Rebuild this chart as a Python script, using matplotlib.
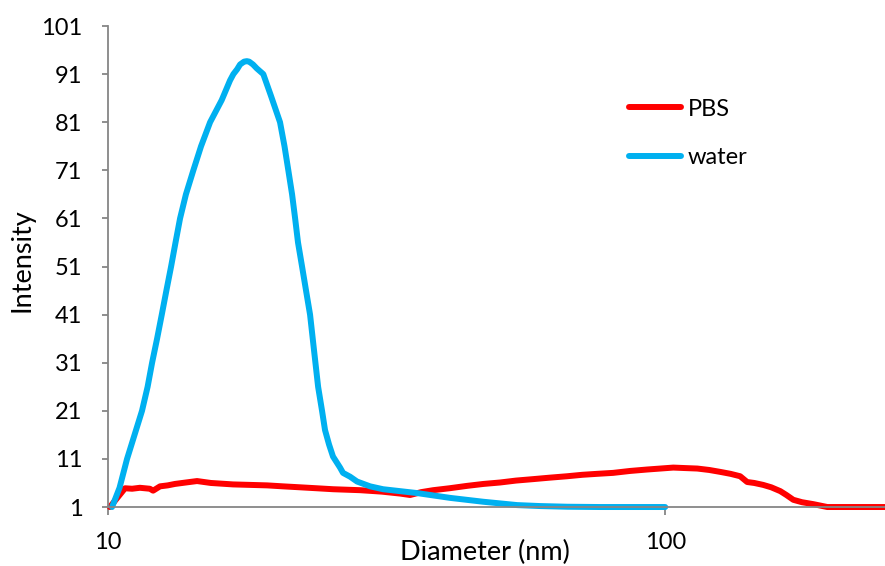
import numpy as np
import matplotlib.pyplot as plt
from matplotlib.ticker import FixedLocator, NullLocator, FixedFormatter

plt.rcParams['font.family'] = ['Lato', 'DejaVu Sans']

# DLS size distribution
pbs_d = [10.08, 10.73, 11.05, 11.41, 11.89, 12.05, 12.40, 12.80, 13.19, 13.80,
         14.45, 15.30, 16.77, 18.00, 19.30, 20.60, 22.11, 23.70, 25.35, 28.35,
         31.00, 33.43, 34.85, 36.50, 38.33, 41.00, 44.11, 47.20, 50.55, 54.00,
         57.94, 62.00, 66.71, 71.00, 75.47, 80.65, 86.50, 92.83, 98.00, 103.4,
         108.5, 114.2, 120.0, 125.6, 131.0, 136.3, 140.3, 144.5, 149.9, 155.0,
         160.9, 165.0, 169.8, 176.0, 184.4, 195.4, 210.0, 248.0]
pbs_i = [1.0, 4.9, 4.8, 5.0, 4.8, 4.4, 5.3, 5.5, 5.8, 6.1,
         6.4, 6.0, 5.7, 5.6, 5.5, 5.3, 5.1, 4.9, 4.7, 4.5,
         4.2, 3.8, 3.5, 4.1, 4.5, 4.9, 5.4, 5.8, 6.1, 6.5,
         6.8, 7.1, 7.4, 7.7, 7.9, 8.1, 8.5, 8.8, 9.0, 9.2,
         9.1, 9.0, 8.7, 8.3, 7.9, 7.4, 6.2, 6.0, 5.6, 5.1,
         4.3, 3.5, 2.5, 2.0, 1.6, 1.0, 1.0, 1.0]

water_d = [10.17, 10.49, 10.82, 11.16, 11.51, 11.78, 12.00, 12.25, 12.49, 12.73,
           12.98, 13.22, 13.47, 13.80, 14.23, 14.69, 15.25, 16.00, 16.56, 16.79,
           17.05, 17.26, 17.55, 17.75, 17.92, 18.21, 18.49, 19.00, 19.61, 20.36,
           20.74, 21.07, 21.40, 21.67, 21.93, 22.30, 22.67, 23.05, 23.43, 23.83,
           24.22, 24.52, 24.93, 25.34, 26.09, 26.41, 27.20, 27.99, 29.54, 31.17,
           33.44, 35.87, 41.11, 47.12, 54.24, 59.66, 66.71, 76.43, 100.0]
water_i = [1.0, 5.0, 11.0, 16.0, 21.0, 26.0, 31.0, 36.0, 41.0, 46.0,
           51.0, 56.0, 61.0, 66.0, 71.0, 76.0, 81.0, 85.6, 89.7, 91.0,
           92.0, 93.0, 93.6, 93.7, 93.6, 93.0, 92.2, 91.0, 86.5, 81.0,
           76.0, 71.0, 66.0, 61.0, 56.0, 51.0, 46.0, 41.0, 33.6, 26.0,
           21.0, 17.0, 14.0, 11.5, 9.2, 8.1, 7.3, 6.3, 5.3, 4.7,
           4.3, 3.9, 2.9, 2.1, 1.4, 1.2, 1.06, 1.0, 1.0]

y_ticks = list(range(1, 102, 10))
x_ticks = [10, 100]

fig = plt.figure(figsize=(8.85, 5.66), dpi=100)
ax = fig.add_axes([0.122, 0.1042, 0.878, 0.8498])

ax.plot(pbs_d, pbs_i, color='#FF0000', lw=4.3, label='PBS',
        solid_capstyle='round', solid_joinstyle='round', clip_on=False)
ax.plot(water_d, water_i, color='#00B0F0', lw=4.3, label='water',
        solid_capstyle='round', solid_joinstyle='round', clip_on=False)

ax.set_xscale('log')
ax.set_xlim(10, 248)
ax.set_ylim(1, 101)
ax.xaxis.set_major_locator(FixedLocator(x_ticks))
ax.xaxis.set_major_formatter(FixedFormatter([str(t) for t in x_ticks]))
ax.xaxis.set_minor_locator(NullLocator())
ax.set_yticks(y_ticks)

for s in ['top', 'right']:
    ax.spines[s].set_visible(False)
for s in ['left', 'bottom']:
    ax.spines[s].set_color('#868686')
    ax.spines[s].set_linewidth(1.3)

ax.tick_params(axis='y', direction='out', length=4.5, width=1.3, color='#868686',
               pad=14, labelsize=17, labelcolor='black')
ax.tick_params(axis='x', direction='out', length=5.8, width=1.3, color='#868686',
               pad=12, labelsize=17, labelcolor='black')

ax.set_xlabel('Diameter (nm)', fontsize=19.5)
ax.xaxis.label.set_va('center')
ax.xaxis.set_label_coords(0.485, -0.0936)
ax.set_ylabel('Intensity', fontsize=19.5)
ax.yaxis.label.set_va('center')
ax.yaxis.set_label_coords(-0.1107, 0.513)

ax.legend(loc='upper left', bbox_to_anchor=(0.643, 0.893), frameon=False,
          fontsize=17, handlelength=2.2, handletextpad=0.3, labelspacing=1.15)

fig.savefig('out.png', dpi=100)
